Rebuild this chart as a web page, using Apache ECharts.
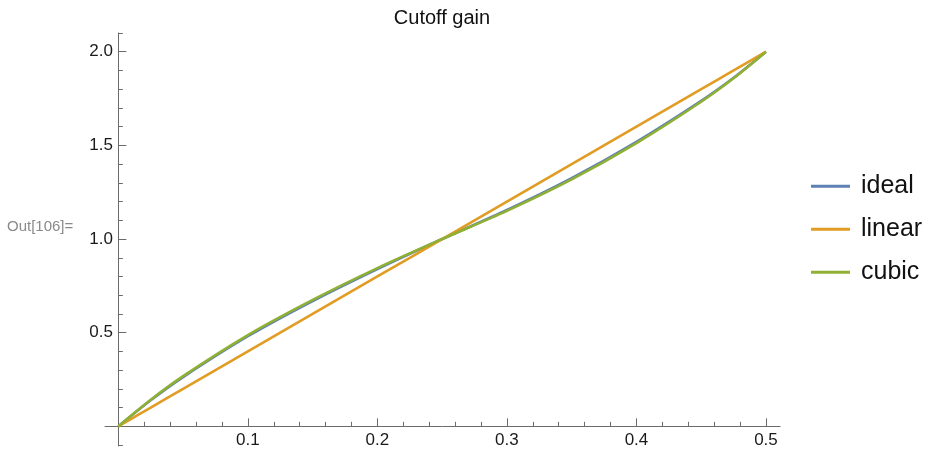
<!DOCTYPE html>
<html>
<head>
<meta charset="utf-8">
<script src="https://cdn.jsdelivr.net/npm/echarts@6/dist/echarts.min.js"></script>
<style>
html,body{margin:0;padding:0;background:#fff;}
#c{width:927px;height:451px;}
</style>
</head>
<body>
<div id="c"></div>
<script>
// ---- data ----
var xValues   = [0, 0.025, 0.05, 0.1, 0.15, 0.2, 0.25, 0.3, 0.35, 0.4, 0.45, 0.475, 0.5];
var idealVals = [0, 0.139, 0.263, 0.481, 0.669, 0.840, 1.0, 1.155, 1.325, 1.519, 1.738, 1.861, 2.0];
var linearVals= [0, 0.100, 0.200, 0.400, 0.600, 0.800, 1.0, 1.200, 1.400, 1.600, 1.800, 1.900, 2.0];
var cubicVals = [0, 0.142, 0.268, 0.487, 0.675, 0.845, 1.0, 1.150, 1.318, 1.512, 1.733, 1.858, 2.0];
var seriesNames = ['ideal', 'linear', 'cubic'];
var xMajorTicks = [0.1, 0.2, 0.3, 0.4, 0.5];
var xMinorTicks = [0.02, 0.04, 0.06, 0.08, 0.12, 0.14, 0.16, 0.18, 0.22, 0.24, 0.26, 0.28,
                   0.32, 0.34, 0.36, 0.38, 0.42, 0.44, 0.46, 0.48];
var yMajorTicks = [0.5, 1.0, 1.5, 2.0];
var yMinorTicks = [-0.1, 0.1, 0.2, 0.3, 0.4, 0.6, 0.7, 0.8, 0.9, 1.1, 1.2, 1.3, 1.4,
                   1.6, 1.7, 1.8, 1.9, 2.1];
var titleText = 'Cutoff gain';
var outLabel = 'Out[106]=';

var colors = ['#5E81B5', '#E19C24', '#8FB032'];
var axisColor = '#6b6b6b';
var fontFam = '"Liberation Sans", Arial, sans-serif';

function pairs(vals) {
  return xValues.map(function (x, i) { return [x, vals[i]]; });
}

var X_MIN = -0.0103, X_MAX = 0.5109, Y_MIN = -0.105, Y_MAX = 2.1;

function xAxisDef(major) {
  return {
    type: 'value', min: X_MIN, max: X_MAX, position: 'bottom',
    axisLine: { show: major, onZero: true, onZeroAxisIndex: 0, lineStyle: { color: axisColor, width: 1 } },
    axisTick: { show: true, inside: true, length: major ? 8 : 4.5,
      customValues: major ? xMajorTicks : xMinorTicks,
      lineStyle: { color: axisColor, width: 1 } },
    axisLabel: { show: major, customValues: xMajorTicks, margin: -14.5,
      color: '#1a1a1a', fontSize: 17, fontFamily: fontFam,
      formatter: function (v) { return String(Math.round(v * 10) / 10); } },
    splitLine: { show: false }
  };
}
function yAxisDef(major) {
  return {
    type: 'value', min: Y_MIN, max: Y_MAX, position: 'left',
    axisLine: { show: major, onZero: true, onZeroAxisIndex: 0, lineStyle: { color: axisColor, width: 1 } },
    axisTick: { show: true, inside: true, length: major ? 8 : 4.5,
      customValues: major ? yMajorTicks : yMinorTicks,
      lineStyle: { color: axisColor, width: 1 } },
    axisLabel: { show: major, customValues: yMajorTicks, margin: -8,
      color: '#1a1a1a', fontSize: 17, fontFamily: fontFam,
      formatter: function (v) { return v.toFixed(1); } },
    splitLine: { show: false }
  };
}

var chart = echarts.init(document.getElementById('c'), null, { renderer: 'canvas' });
var allVals = [idealVals, linearVals, cubicVals];
chart.setOption({
  animation: false,
  backgroundColor: '#ffffff',
  color: colors,
  title: [{
    text: titleText, left: 442, top: 8, textAlign: 'center', padding: 0,
    textStyle: { fontSize: 20, fontWeight: 'normal', color: '#111', fontFamily: fontFam }
  }, {
    text: outLabel, left: 7, top: 219, padding: 0,
    textStyle: { fontSize: 15, fontWeight: 'normal', color: '#8a8a8a', fontFamily: fontFam }
  }],
  legend: {
    orient: 'vertical', left: 811, top: 173.7, padding: 0,
    itemWidth: 39, itemHeight: 3, itemGap: 18,
    icon: 'rect',
    textStyle: { fontSize: 25, lineHeight: 24, color: '#111', fontFamily: fontFam, padding: [0, 0, 0, 6] },
    data: seriesNames
  },
  grid: { left: 105, right: 146.9, top: 33, bottom: 5, containLabel: false, outerBoundsMode: 'none' },
  xAxis: [xAxisDef(true), xAxisDef(false)],
  yAxis: [yAxisDef(true), yAxisDef(false)],
  series: seriesNames.map(function (name, i) {
    return {
      name: name, type: 'line', xAxisIndex: 0, yAxisIndex: 0,
      data: pairs(allVals[i]), smooth: 0.3, showSymbol: false, symbol: 'none',
      lineStyle: { width: 2.6, color: colors[i] }, z: 2 + i
    };
  })
});
</script>
</body>
</html>
